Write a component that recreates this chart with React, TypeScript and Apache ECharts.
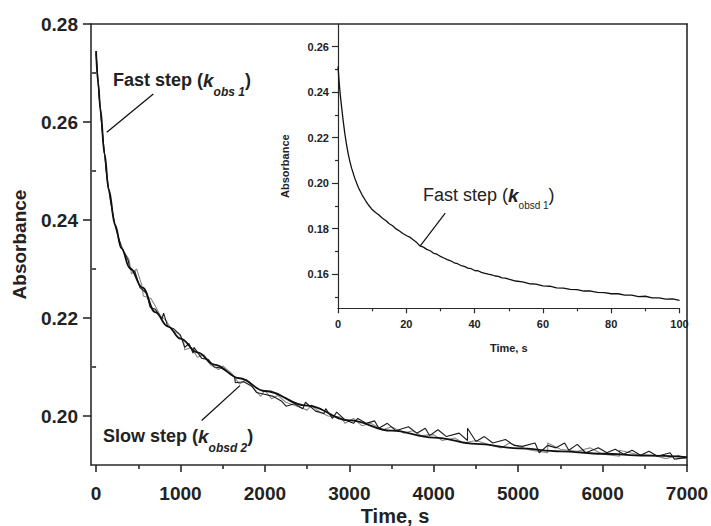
import React, { useEffect, useRef } from "react";
import * as echarts from "echarts";

// ---------- Main panel: absorbance vs time (s) ----------
const mainXMajor = [0, 1000, 2000, 3000, 4000, 5000, 6000, 7000];
const mainXMinor = [500, 1500, 2500, 3500, 4500, 5500, 6500];
const mainYMajor = [0.2, 0.22, 0.24, 0.26, 0.28];
const mainYMinor = [0.21, 0.23, 0.25, 0.27];

const fitTime = [0, 25, 50, 100, 150, 225, 300, 400, 550, 700, 850, 1000, 1200, 1400, 1700, 2000, 2500, 3000, 3500, 4000, 4500, 5000, 5500, 6000, 6500, 7000];
const fitAbs = [0.2745, 0.268, 0.2628, 0.2535, 0.2462, 0.239, 0.2342, 0.2302, 0.2262, 0.2212, 0.2183, 0.2158, 0.213, 0.2105, 0.2077, 0.2051, 0.2021, 0.1991, 0.197, 0.1956, 0.1943, 0.1934, 0.1928, 0.1923, 0.1919, 0.1916];

const blackData = [
  [0, 0.274], [20, 0.269], [50, 0.2625], [80, 0.257], [120, 0.25], [170, 0.244], [230, 0.2385], [300, 0.2345],
  [380, 0.2318], [400, 0.23], [460, 0.2295], [520, 0.2262], [600, 0.225], [640, 0.2222], [700, 0.2218],
  [780, 0.2198], [800, 0.221], [850, 0.2182], [920, 0.2178], [1000, 0.2165], [1050, 0.214], [1100, 0.2148],
  [1150, 0.2128], [1160, 0.214], [1250, 0.2118], [1330, 0.2115], [1400, 0.21], [1480, 0.2098], [1560, 0.209],
  [1640, 0.208], [1650, 0.2068], [1750, 0.207], [1850, 0.206], [1900, 0.2048], [1980, 0.2045], [2100, 0.204],
  [2200, 0.203], [2250, 0.202], [2350, 0.2025], [2450, 0.2015], [2480, 0.2028], [2600, 0.201], [2700, 0.2005],
  [2720, 0.2015], [2800, 0.1995], [2850, 0.2008], [2950, 0.1992], [3050, 0.1985], [3100, 0.1995], [3200, 0.1985],
  [3300, 0.199], [3350, 0.1975], [3450, 0.1985], [3550, 0.197], [3700, 0.1978], [3800, 0.1965], [3900, 0.1975],
  [3950, 0.196], [4050, 0.1972], [4150, 0.1958], [4300, 0.1965], [4400, 0.195], [4400, 0.1975], [4500, 0.1948],
  [4600, 0.1958], [4700, 0.1945], [4850, 0.1952], [4950, 0.194], [5050, 0.1938], [5200, 0.1945], [5250, 0.1925],
  [5350, 0.194], [5450, 0.1935], [5550, 0.1945], [5600, 0.193], [5700, 0.1942], [5800, 0.1925], [5950, 0.1935],
  [6050, 0.1925], [6150, 0.1932], [6250, 0.1922], [6350, 0.193], [6450, 0.192], [6550, 0.1928], [6650, 0.1918],
  [6800, 0.1925], [6850, 0.1912], [7000, 0.1915],
];

const greyData = [
  [0, 0.2742], [30, 0.2665], [60, 0.2605], [100, 0.2535], [140, 0.247], [200, 0.241], [260, 0.2365], [330, 0.2335],
  [390, 0.232], [420, 0.229], [480, 0.23], [540, 0.2268], [560, 0.2245], [650, 0.224], [700, 0.2225], [760, 0.2205],
  [830, 0.2195], [900, 0.2175], [980, 0.2168], [1040, 0.215], [1050, 0.2135], [1130, 0.214], [1200, 0.212],
  [1280, 0.2125], [1350, 0.2105], [1450, 0.2095], [1500, 0.2102], [1600, 0.2088], [1700, 0.2065], [1780, 0.2075],
  [1860, 0.2058], [1950, 0.204], [2000, 0.2052], [2080, 0.2035], [2150, 0.2042], [2250, 0.2028], [2380, 0.202],
  [2500, 0.2012], [2550, 0.2022], [2650, 0.2008], [2750, 0.2], [2900, 0.1998], [2950, 0.1985], [3050, 0.1995],
  [3150, 0.198], [3250, 0.1985], [3400, 0.1972], [3500, 0.1978], [3650, 0.1965], [3750, 0.197], [3850, 0.196],
  [4000, 0.1962], [4100, 0.195], [4250, 0.1955], [4350, 0.1945], [4500, 0.195], [4650, 0.1942], [4800, 0.1935],
  [4900, 0.1945], [5000, 0.1938], [5150, 0.193], [5350, 0.1925], [5350, 0.1945], [5500, 0.1932], [5700, 0.1928],
  [5850, 0.1935], [6000, 0.1922], [6200, 0.1918], [6200, 0.193], [6400, 0.1922], [6600, 0.192], [6750, 0.1913],
  [6900, 0.192], [7000, 0.1912],
];

// ---------- Inset panel: first 100 s ----------
const insetXMajor = [0, 20, 40, 60, 80, 100];
const insetXMinor = [10, 30, 50, 70, 90];
const insetYMajor = [0.16, 0.18, 0.2, 0.22, 0.24, 0.26];
const insetYMinor = [0.15, 0.17, 0.19, 0.21, 0.23, 0.25];

const insetTime = [0, 0.3, 0.6, 1, 1.5, 2, 2.5, 3, 3.5, 4, 5, 6, 7, 8, 9, 10, 11, 12, 13, 14, 15, 16, 17, 18, 19, 20, 21, 22, 23, 24, 25, 26, 27, 28, 29, 30, 31, 32, 33, 34, 35, 36, 37, 38, 39, 40, 41, 42, 43, 44, 45, 46, 47, 48, 49, 50, 52, 54, 56, 58, 60, 62, 64, 66, 68, 70, 72, 74, 76, 78, 80, 82, 84, 86, 88, 90, 92, 94, 96, 98, 100];
const insetAbs = [0.2513, 0.2452, 0.2398, 0.2342, 0.2276, 0.2218, 0.217, 0.2128, 0.2094, 0.2065, 0.2018, 0.198, 0.195, 0.1925, 0.1903, 0.1884, 0.1871, 0.186, 0.1846, 0.1836, 0.1822, 0.1813, 0.1799, 0.179, 0.1779, 0.177, 0.1763, 0.1751, 0.1740, 0.1724, 0.1719, 0.1709, 0.1703, 0.1692, 0.1688, 0.1678, 0.1671, 0.1664, 0.1659, 0.165, 0.1646, 0.1638, 0.1634, 0.1627, 0.1624, 0.1616, 0.1615, 0.1608, 0.1604, 0.16, 0.1597, 0.1592, 0.1590, 0.1584, 0.1583, 0.1578, 0.157, 0.1566, 0.1558, 0.1556, 0.1549, 0.1547, 0.154, 0.1539, 0.1533, 0.1532, 0.1526, 0.1526, 0.152, 0.1519, 0.1514, 0.1514, 0.1508, 0.1508, 0.1501, 0.1503, 0.1496, 0.1496, 0.149, 0.1491, 0.1485];

const FONT = "'Liberation Sans', Arial, sans-serif";
const AXIS_COLOR = "#2a2a2a";

const hiddenParts = {
  axisLabel: { show: false },
  axisTick: { show: false },
  splitLine: { show: false },
  axisLine: { show: false },
};

function richLabel(mainSize: number, mainWeight: string, subSize: number, subWeight: string, subItalic: boolean, lineH: number, subLineH: number) {
  return {
    a: { fontFamily: FONT, fontSize: mainSize, fontWeight: mainWeight, lineHeight: lineH, verticalAlign: "top", fill: "#222" },
    k: { fontFamily: FONT, fontSize: mainSize + 1, fontWeight: "bold", fontStyle: "italic", lineHeight: lineH, verticalAlign: "top", fill: "#222" },
    s: { fontFamily: FONT, fontSize: subSize, fontWeight: subWeight, fontStyle: subItalic ? "italic" : "normal", lineHeight: subLineH, verticalAlign: "bottom", fill: "#222" },
  };
}

function buildOption() {
  const fitData = fitTime.map((t, i) => [t, fitAbs[i]]);
  const insetData = insetTime.map((t, i) => [t, insetAbs[i]]);
  const mainLine = { lineStyle: { color: AXIS_COLOR, width: 1.6 } };
  const insetLine = { lineStyle: { color: AXIS_COLOR, width: 1.2 } };

  return {
    animation: false,
    backgroundColor: "#ffffff",
    grid: [
      { left: 91, right: 24, top: 24, bottom: 61, containLabel: false, outerBoundsMode: "none" },
      { left: 338, right: 31.5, top: 24, bottom: 217.7, containLabel: false, outerBoundsMode: "none" },
    ],
    xAxis: [
      {
        type: "value", gridIndex: 0, position: "bottom", min: -60, max: 7000,
        splitLine: { show: false },
        axisLine: { show: true, onZero: false, ...mainLine },
        axisTick: { show: true, inside: false, length: 7, customValues: mainXMajor, ...mainLine },
        axisLabel: {
          customValues: mainXMajor, margin: 19, color: "#222", fontFamily: FONT,
          fontWeight: "bold", fontSize: 19, formatter: (v: number) => String(v),
        },
        name: "Time, s", nameLocation: "middle", nameGap: 41, nameMoveOverlap: false,
        nameTextStyle: { color: "#222", fontFamily: FONT, fontWeight: "bold", fontSize: 20, padding: [0, 0, 0, 12] },
      },
      {
        type: "value", gridIndex: 0, position: "bottom", min: -60, max: 7000, ...hiddenParts,
        axisTick: { show: true, inside: false, length: 4, customValues: mainXMinor, ...mainLine },
      },
      {
        type: "value", gridIndex: 0, position: "top", min: -60, max: 7000, ...hiddenParts,
        axisLine: { show: true, onZero: false, ...mainLine },
      },
      {
        type: "value", gridIndex: 1, position: "bottom", min: 0, max: 100,
        splitLine: { show: false },
        axisLine: { show: true, onZero: false, ...insetLine },
        axisTick: { show: true, inside: false, length: 5, customValues: insetXMajor, ...insetLine },
        axisLabel: {
          customValues: insetXMajor, margin: 10, color: "#222", fontFamily: FONT,
          fontWeight: "bold", fontSize: 11, formatter: (v: number) => String(v),
        },
        name: "Time, s", nameLocation: "middle", nameGap: 34, nameMoveOverlap: false,
        nameTextStyle: { color: "#222", fontFamily: FONT, fontWeight: "bold", fontSize: 11 },
      },
      {
        type: "value", gridIndex: 1, position: "bottom", min: 0, max: 100, ...hiddenParts,
        axisTick: { show: true, inside: false, length: 3, customValues: insetXMinor, ...insetLine },
      },
    ],
    yAxis: [
      {
        type: "value", gridIndex: 0, position: "left", min: 0.19, max: 0.28,
        splitLine: { show: false },
        axisLine: { show: true, onZero: false, ...mainLine },
        axisTick: { show: true, inside: false, length: 8, customValues: mainYMajor, ...mainLine },
        axisLabel: {
          customValues: mainYMajor, margin: 13, color: "#222", fontFamily: FONT,
          fontWeight: "bold", fontSize: 19, formatter: (v: number) => v.toFixed(2),
        },
        name: "Absorbance", nameLocation: "middle", nameGap: 62, nameMoveOverlap: false,
        nameTextStyle: { color: "#222", fontFamily: FONT, fontWeight: "bold", fontSize: 19 },
      },
      {
        type: "value", gridIndex: 0, position: "left", min: 0.19, max: 0.28, ...hiddenParts,
        axisTick: { show: true, inside: false, length: 4, customValues: mainYMinor, ...mainLine },
      },
      {
        type: "value", gridIndex: 0, position: "right", min: 0.19, max: 0.28, ...hiddenParts,
        axisLine: { show: true, onZero: false, ...mainLine },
      },
      {
        type: "value", gridIndex: 1, position: "left", min: 0.145, max: 0.27,
        splitLine: { show: false },
        axisLine: { show: true, onZero: false, ...insetLine },
        axisTick: { show: true, inside: false, length: 6, customValues: insetYMajor, ...insetLine },
        axisLabel: {
          customValues: insetYMajor, margin: 9, color: "#222", fontFamily: FONT,
          fontWeight: "bold", fontSize: 11, formatter: (v: number) => v.toFixed(2),
        },
        name: "Absorbance", nameLocation: "middle", nameGap: 48, nameMoveOverlap: false,
        nameTextStyle: { color: "#222", fontFamily: FONT, fontWeight: "bold", fontSize: 11 },
      },
      {
        type: "value", gridIndex: 1, position: "left", min: 0.145, max: 0.27, ...hiddenParts,
        axisTick: { show: true, inside: false, length: 3, customValues: insetYMinor, ...insetLine },
      },
    ],
    series: [
      {
        name: "grey data", type: "line", xAxisIndex: 0, yAxisIndex: 0, data: greyData,
        showSymbol: false, silent: true, lineStyle: { color: "#8a8a8a", width: 1.1 },
      },
      {
        name: "black data", type: "line", xAxisIndex: 0, yAxisIndex: 0, data: blackData,
        showSymbol: false, silent: true, lineStyle: { color: "#1a1a1a", width: 1.1 },
      },
      {
        name: "fit", type: "line", xAxisIndex: 0, yAxisIndex: 0, data: fitData,
        showSymbol: false, silent: true, smooth: 0.4, smoothMonotone: "x",
        lineStyle: { color: "#111", width: 1.8 },
        markLine: {
          silent: true, symbol: ["none", "none"], label: { show: false },
          lineStyle: { color: "#111", width: 1.3, type: "solid" },
          data: [
            [{ coord: [678, 0.2657] }, { coord: [127, 0.2579] }],
            [{ coord: [1251, 0.1991] }, { coord: [1704, 0.2062] }],
          ],
        },
      },
      {
        name: "inset", type: "line", xAxisIndex: 3, yAxisIndex: 3, data: insetData,
        showSymbol: false, silent: true, lineStyle: { color: "#111", width: 1.3 },
        markLine: {
          silent: true, symbol: ["none", "none"], label: { show: false },
          lineStyle: { color: "#111", width: 1.2, type: "solid" },
          data: [[{ coord: [31.4, 0.1868] }, { coord: [24.1, 0.1724] }]],
        },
      },
    ],
    graphic: [
      {
        type: "text", x: 113, y: 71, silent: true,
        style: {
          text: "{a|Fast step (}{k|k}{s|obs 1}{a|)}",
          align: "left", verticalAlign: "top", fill: "#222",
          rich: richLabel(18, "bold", 12, "bold", true, 22, 27),
        },
      },
      {
        type: "text", x: 103, y: 427, silent: true,
        style: {
          text: "{a|Slow step (}{k|k}{s|obsd 2}{a|)}",
          align: "left", verticalAlign: "top", fill: "#222",
          rich: richLabel(18, "bold", 12, "bold", true, 22, 27),
        },
      },
      {
        type: "text", x: 423, y: 186, silent: true,
        style: {
          text: "{a|Fast step (}{k|k}{s|obsd 1}{a|)}",
          align: "left", verticalAlign: "top", fill: "#222",
          rich: richLabel(18, "normal", 10, "normal", false, 20, 24),
        },
      },
    ],
  };
}

export default function App() {
  const ref = useRef<HTMLDivElement>(null);
  useEffect(() => {
    if (!ref.current) return;
    const chart = echarts.init(ref.current, null, { renderer: "svg" });
    chart.setOption(buildOption() as any);
    return () => chart.dispose();
  }, []);
  return (
    <div
      ref={ref}
      style={{ position: "absolute", left: 0, top: 0, width: 711, height: 526, background: "#fff" }}
    />
  );
}
